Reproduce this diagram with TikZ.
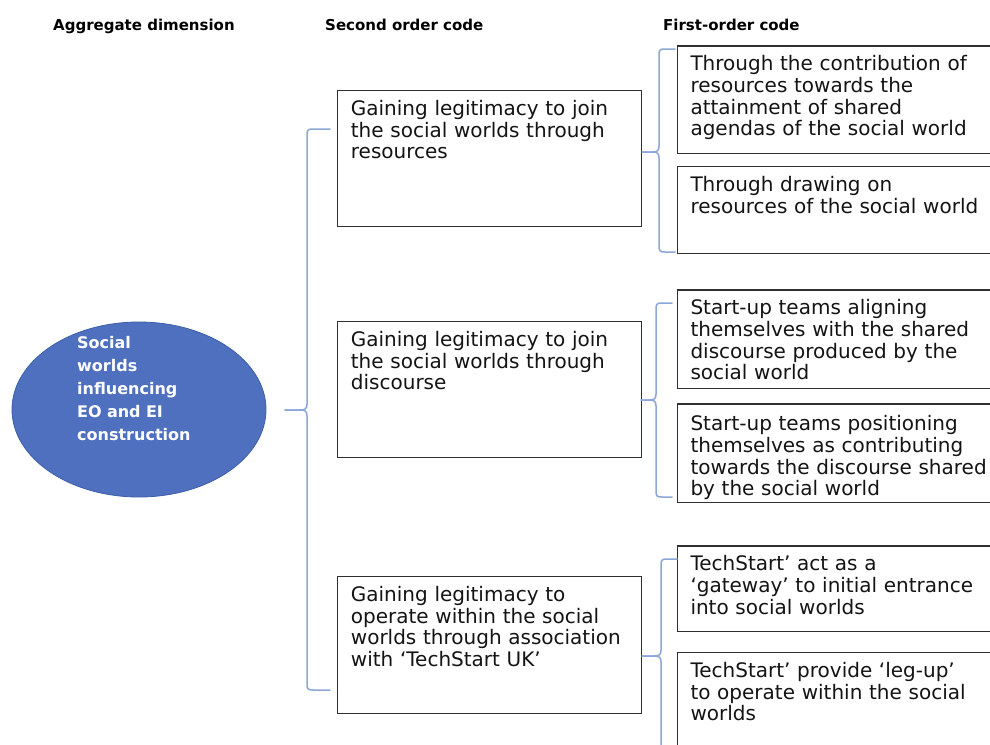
\documentclass[tikz,border=0pt]{standalone}
\usepackage{fontspec}
\setmainfont{DejaVu Sans}
\usetikzlibrary{shapes.geometric}
\definecolor{ellblue}{RGB}{78,112,190}
\definecolor{elledge}{RGB}{62,94,168}
\definecolor{bracecol}{RGB}{140,166,218}
\definecolor{boxline}{RGB}{48,48,48}
\definecolor{bodytext}{RGB}{20,20,20}

% curly brace: #1 hook end x, #2 spine x, #3 top y, #4 tip x, #5 tip y, #6 bottom y
\newcommand{\curlybrace}[6]{%
  \draw[bracestyle] (#1,#3) -- (#2+6,#3) .. controls (#2+1,#3) and (#2,#3+1) .. (#2,#3+6)
    -- (#2,#5-6) .. controls (#2,#5-1) and (#2-2,#5) .. (#2-7,#5) -- (#4,#5);
  \draw[bracestyle] (#4,#5) -- (#2-7,#5) .. controls (#2-2,#5) and (#2,#5+1) .. (#2,#5+6)
    -- (#2,#6-6) .. controls (#2,#6-1) and (#2+1,#6) .. (#2+6,#6) -- (#1,#6);
}

\begin{document}
\begin{tikzpicture}[x=1pt,y=-1pt,
  header/.style={anchor=base west, inner sep=0pt, text=black,
    font=\bfseries\fontsize{15}{18}\selectfont},
  codebox/.style={draw=boxline, line width=1.5pt, inner sep=0pt, outer sep=0pt,
    anchor=north west},
  codetext/.style={anchor=base west, inner sep=0pt, text width=330pt, align=left,
    text=bodytext, font=\fontsize{20}{21.8}\selectfont, xshift=13pt, yshift=-24.5pt},
  bracestyle/.style={draw=bracecol, line width=1.5pt, line cap=round, line join=round},
]
\useasboundingbox (0,0) rectangle (990,744);
\clip (0,0) rectangle (990,744);
\fill[white] (0,0) rectangle (990,744);

% column headings
\node[header] (hAgg) at (53,30) {Aggregate dimension};
\node[header] (hSecond) at (325,30) {Second order code};
\node[header] (hFirst) at (663,30) {First-order code};

% aggregate dimension
\node[ellipse, fill=ellblue, draw=elledge, line width=0.8pt,
  minimum width=254pt, minimum height=175pt, inner sep=0pt] (agg) at (139,409.5) {};
\node[anchor=base west, inner sep=0pt, text width=150pt, align=left, text=white,
  font=\bfseries\fontsize{16}{23}\selectfont] (aggt) at (77,348.3)
  {Social\\worlds\\influencing\\EO and EI\\construction};

% second order codes
\node[codebox, minimum width=304pt, minimum height=136pt] (m1) at (337.7,90.7) {};
\node[codetext] (m1t) at (m1.north west)
  {Gaining legitimacy to join\\the social worlds through\\resources};
\node[codebox, minimum width=304pt, minimum height=136pt] (m2) at (337.7,321.7) {};
\node[codetext] (m2t) at (m2.north west)
  {Gaining legitimacy to join\\the social worlds through\\discourse};
\node[codebox, minimum width=304pt, minimum height=136.6pt] (m3) at (337.7,576.7) {};
\node[codetext] (m3t) at (m3.north west)
  {Gaining legitimacy to\\operate within the social\\worlds through association\\with ‘TechStart UK’};

% first order codes
\node[codebox, minimum width=340pt, minimum height=107.3pt] (r1) at (677.3,46) {};
\node[codetext] (r1t) at (r1.north west)
  {Through the contribution of\\resources towards the\\attainment of shared\\agendas of the social world};
\node[codebox, minimum width=340pt, minimum height=86.6pt] (r2) at (677.3,166.7) {};
\node[codetext] (r2t) at (r2.north west)
  {Through drawing on\\resources of the social world};
\node[codebox, minimum width=340pt, minimum height=98.3pt] (r3) at (677.3,290) {};
\node[codetext] (r3t) at (r3.north west)
  {Start-up teams aligning\\themselves with the shared\\discourse produced by the\\social world};
\node[codebox, minimum width=340pt, minimum height=98.7pt] (r4) at (677.3,404) {};
\node[codetext, yshift=-2pt] (r4t) at (r4.north west)
  {Start-up teams positioning\\themselves as contributing\\towards the discourse shared\\by the social world};
\node[codebox, minimum width=340pt, minimum height=85.7pt] (r5) at (677.3,546) {};
\node[codetext] (r5t) at (r5.north west)
  {TechStart’ act as a\\‘gateway’ to initial entrance\\into social worlds};
\node[codebox, minimum width=340pt, minimum height=120pt] (r6) at (677.3,652.7) {};
\node[codetext] (r6t) at (r6.north west)
  {TechStart’ provide ‘leg-up’\\to operate within the social\\worlds};

% braces
\curlybrace{330}{307}{129}{285}{410}{690}
\curlybrace{675}{659}{49}{642}{152}{252}
\curlybrace{672}{656}{303}{641}{400}{497}
\curlybrace{677}{661}{559}{642}{656}{800}
\end{tikzpicture}
\end{document}
